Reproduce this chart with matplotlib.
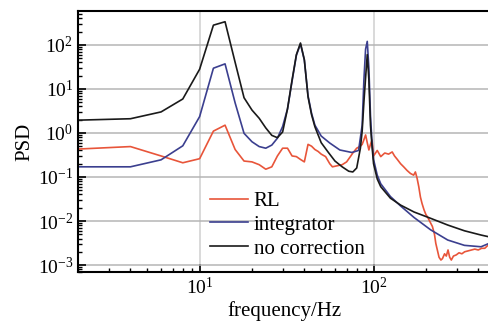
import numpy as np
import matplotlib
matplotlib.use("Agg")
from matplotlib import pyplot as plt

# values (frequency in Hz, PSD)
f_nc = [2, 4, 6, 8, 10, 12, 14, 16, 18, 20, 22, 24, 26, 28, 30, 32, 34, 36, 38, 40,
        42, 44, 46, 50, 55, 60, 66, 72, 76, 80, 84, 86, 88, 90, 92, 94, 96, 98, 100,
        105, 110, 125, 143, 171, 213, 267, 333, 415, 470]
psd_nc = [1.95, 2.1, 3.0, 5.9, 28, 280, 335, 40, 6.3, 3.3, 2.15, 1.3, 0.88, 0.78, 1.05,
          3.5, 16, 60, 110, 46, 6.6, 2.6, 1.38, 0.6, 0.36, 0.23, 0.17, 0.135, 0.13, 0.16,
          0.45, 1.1, 5, 18, 60, 16, 1.5, 0.5, 0.2, 0.09, 0.06, 0.033, 0.023, 0.016,
          0.0115, 0.0081, 0.006, 0.0048, 0.0043]

f_int = [2, 4, 6, 8, 10, 12, 14, 16, 18, 20, 22, 24, 26, 28, 30, 32, 34, 36, 38, 40,
         42, 44, 46, 50, 56, 64, 75, 82, 86, 88, 90, 92, 94, 96, 98, 100,
         105, 110, 125, 143, 171, 213, 267, 333, 415, 470]
psd_int = [0.17, 0.17, 0.245, 0.51, 2.35, 29.5, 37, 4.8, 0.98, 0.63, 0.49, 0.45, 0.53,
           0.76, 1.4, 3.5, 15, 58, 105, 45, 7, 2.8, 1.5, 0.85, 0.59, 0.41, 0.36, 0.4,
           1.5, 16, 80, 120, 30, 2.5, 0.6, 0.25, 0.11, 0.07, 0.036, 0.022, 0.012,
           0.0063, 0.0037, 0.0028, 0.0026, 0.0032]

f_rl = [2, 4, 6, 8, 10, 12, 14, 16, 18, 20, 22, 24, 26, 28, 30, 32, 34, 36, 38, 40,
        42, 44, 46, 48, 50, 53, 56, 58, 62, 66, 70, 74, 76, 80, 84, 86, 88, 90, 92, 94,
        96, 98, 100, 105, 110, 116, 122, 128, 132, 137, 143, 149, 156, 163, 170, 174,
        178, 182, 186, 190, 195, 200, 204, 210, 218, 224, 228, 234, 238, 244, 249,
        256, 262, 268, 274, 280, 288, 299, 310, 322, 334, 350, 366, 382, 400, 418,
        436, 450, 470]
psd_rl = [0.43, 0.49, 0.30, 0.21, 0.26, 1.1, 1.5, 0.42, 0.23, 0.22, 0.19, 0.15, 0.17,
          0.3, 0.45, 0.45, 0.3, 0.29, 0.25, 0.22, 0.55, 0.5, 0.42, 0.38, 0.33, 0.29,
          0.2, 0.17, 0.18, 0.19, 0.22, 0.3, 0.35, 0.45, 0.5, 0.55, 0.7, 0.9, 0.6, 0.41,
          0.55, 0.69, 0.3, 0.4, 0.29, 0.35, 0.33, 0.37, 0.3, 0.25, 0.2, 0.17, 0.14,
          0.12, 0.11, 0.13, 0.093, 0.06, 0.035, 0.025, 0.018, 0.014, 0.0125, 0.01,
          0.0075, 0.005, 0.0031, 0.002, 0.0015, 0.0013, 0.0014, 0.0018, 0.0016, 0.0022,
          0.0015, 0.0013, 0.0016, 0.0017, 0.0019, 0.0018, 0.002, 0.0021, 0.0022,
          0.0023, 0.0022, 0.0024, 0.0024, 0.0027, 0.0032]

plt.rcParams['font.family'] = ['Liberation Serif', 'DejaVu Serif']
plt.rcParams['mathtext.fontset'] = 'stix'
plt.rcParams['font.size'] = 14

fig = plt.figure(figsize=(4.88, 3.22), dpi=100)
ax = fig.add_axes([0.16, 0.155, 0.845, 0.811])

ax.plot(f_rl, psd_rl, color='#e8553a', lw=1.2, label='RL')
ax.plot(f_int, psd_int, color='#3b3f8f', lw=1.2, label='integrator')
ax.plot(f_nc, psd_nc, color='#1a1a1a', lw=1.2, label='no correction')

ax.set_xscale('log')
ax.set_yscale('log')
ax.set_xlim(2, 470)
ax.set_ylim(10**-3.16, 10**2.77)
ax.set_yticks([1e-3, 1e-2, 1e-1, 1e0, 1e1, 1e2])
ax.set_xticks([10, 100])

ax.yaxis.grid(True, which='major', color='#b5b5b5', lw=1.1)
ax.xaxis.grid(True, which='major', color='#cfcfcf', lw=1.1)
ax.tick_params(which='both', direction='in', top=False, right=False)
ax.tick_params(which='major', length=6, width=1.2)
ax.tick_params(which='minor', length=3, width=1)
ax.spines['right'].set_visible(False)
for s in ['left', 'bottom', 'top']:
    ax.spines[s].set_linewidth(1.5)

ax.set_xlabel('frequency/Hz', fontsize=15, labelpad=2)
ax.set_ylabel('PSD', fontsize=15, labelpad=2)

ax.legend(loc='lower left', bbox_to_anchor=(0.30, 0.02), frameon=False,
          handlelength=1.8, handletextpad=0.3, labelspacing=0.2, fontsize=15,
          borderaxespad=0)

fig.savefig('out.png', dpi=100)
